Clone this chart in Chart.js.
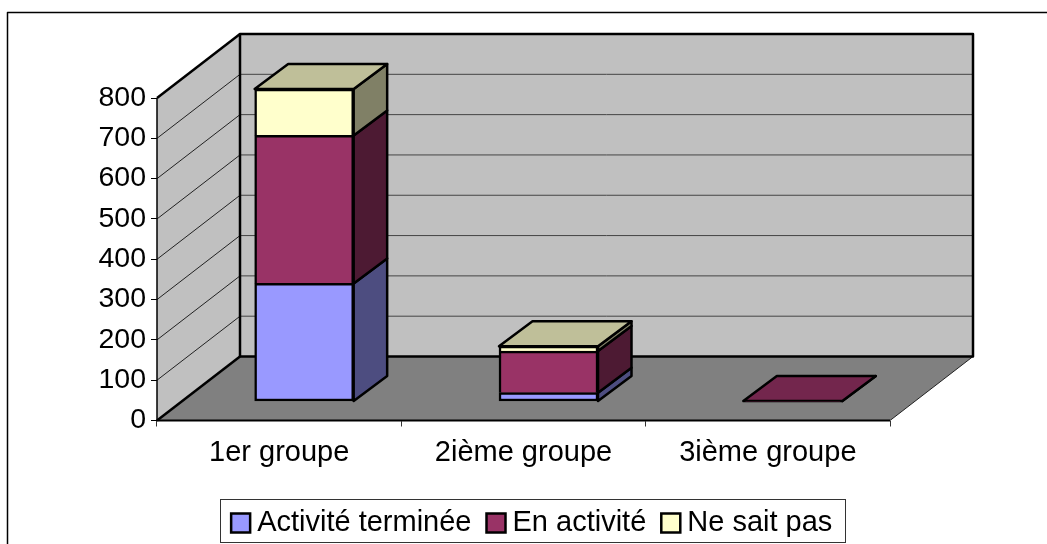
<!DOCTYPE html>
<html lang="fr">
<head>
<meta charset="utf-8">
<title>Groupes</title>
<style>html,body{margin:0;padding:0;background:#fff}canvas{display:block}</style>
<script src="https://cdn.jsdelivr.net/npm/chart.js@4/dist/chart.umd.min.js"></script>
</head>
<body>
<canvas id="c" width="1047" height="544"></canvas>
<script>
const categories = ['1er groupe', '2ième groupe', '3ième groupe'];
const seriesNames = ['Activité terminée', 'En activité', 'Ne sait pas'];
const termine = [293, 22, 0];
const enActivite = [367, 103, 1];
const neSaitPas = [115, 12, 0];
const fronts = ['#9999FF', '#993366', '#FFFFCC'];
const tops = ['#7373BF', '#73264D', '#BFBF99'];
const sides = ['#4D4D80', '#4D1A33', '#808066'];

const FONT = '"Liberation Sans", Arial, sans-serif';
const WALL = { dx: 83, dy: -64 };      // depth of the floor and side wall
const BAR = { ox: 25, oy: -19, dx: 33.5, dy: -25 }; // bar placement in depth

function poly(ctx, pts, fill, lw, stroke) {
  ctx.beginPath();
  pts.forEach((p, i) => i ? ctx.lineTo(p[0], p[1]) : ctx.moveTo(p[0], p[1]));
  ctx.closePath();
  if (fill) { ctx.fillStyle = fill; ctx.fill(); }
  if (lw) { ctx.lineWidth = lw; ctx.strokeStyle = stroke || '#000'; ctx.stroke(); }
}
function seg(ctx, x1, y1, x2, y2, lw, color) {
  ctx.beginPath(); ctx.moveTo(x1, y1); ctx.lineTo(x2, y2);
  ctx.lineWidth = lw; ctx.strokeStyle = color || '#000'; ctx.stroke();
}

const scene = {
  id: 'scene',
  afterLayout(chart) {
    chart.legend.left = 24;
    chart.legend.right = 1047;
    chart.legend.top = 486;
  },
  beforeDraw(chart) {
    const { ctx, chartArea: a, scales: { y } } = chart;
    ctx.save();
    ctx.lineJoin = 'round';
    // outer frame
    ctx.lineWidth = 1.5; ctx.strokeStyle = '#000';
    ctx.strokeRect(7.5, 12.5, 1100, 600);
    const l = a.left, r = a.right, t = a.top, b = a.bottom, dx = WALL.dx, dy = WALL.dy;
    // floor
    poly(ctx, [[l, b], [r, b], [r + dx, b + dy], [l + dx, b + dy]], '#808080');
    // side wall and back wall
    poly(ctx, [[l, b], [l + dx, b + dy], [l + dx, t + dy], [l, t]], '#C0C0C0');
    poly(ctx, [[l + dx, t + dy], [r + dx, t + dy], [r + dx, b + dy], [l + dx, b + dy]], '#C0C0C0');
    // gridlines on both walls
    y.ticks.forEach(tk => {
      if (tk.value === 0 || tk.value === y.max) return;
      const py = y.getPixelForValue(tk.value);
      seg(ctx, l, py, l + dx, py + dy, 1, '#222');
      seg(ctx, l + dx, py + dy, r + dx, py + dy, 1, '#444');
    });
    // structural outlines
    seg(ctx, r, b, r + dx, b + dy, 1, '#222');
    poly(ctx, [[l + dx, t + dy], [r + dx, t + dy], [r + dx, b + dy], [l + dx, b + dy]], null, 2.5);
    seg(ctx, l, t, l + dx, t + dy, 2.5);
    seg(ctx, l, b, l + dx, b + dy, 2.5);
    seg(ctx, l, t, l, b, 1.5);
    seg(ctx, l, b, r, b, 2);
    ctx.restore();
  },
  beforeDatasetsDraw(chart) {
    const { ctx } = chart;
    ctx.save();
    ctx.translate(BAR.ox, BAR.oy);
    ctx.lineJoin = 'round';
    const d = BAR.dx, e = BAR.dy;
    categories.forEach((_, i) => {
      let topIdx = -1;
      chart.data.datasets.forEach((ds, k) => { if (ds.data[i] > 0) topIdx = k; });
      chart.data.datasets.forEach((ds, k) => {
        if (!(ds.data[i] > 0)) return;
        const el = chart.getDatasetMeta(k).data[i];
        const L = el.x - el.width / 2, R = el.x + el.width / 2, T = el.y, B = el.base;
        poly(ctx, [[R, B], [R + d, B + e], [R + d, T + e], [R, T]], sides[k], 2.5);
        if (k === topIdx) {
          poly(ctx, [[L, T], [R, T], [R + d, T + e], [L + d, T + e]], tops[k], 2.5);
        }
      });
    });
  },
  afterDatasetsDraw(chart) {
    chart.ctx.restore();
  },
  afterDraw(chart) {
    const { ctx } = chart;
    ctx.save();
    ctx.lineWidth = 1; ctx.strokeStyle = '#333';
    ctx.strokeRect(220.5, 499.5, 625, 43);
    ctx.restore();
  }
};

const make = (i, data) => ({
  label: seriesNames[i],
  data,
  backgroundColor: fronts[i],
  borderColor: '#000',
  borderWidth: 2.5,
  borderSkipped: i === 0 ? false : 'bottom',
  barThickness: 99,
  stack: 's',
  clip: false
});

new Chart(document.getElementById('c'), {
  type: 'bar',
  data: {
    labels: categories,
    datasets: [make(0, termine), make(1, enActivite), make(2, neSaitPas)]
  },
  options: {
    responsive: false,
    animation: false,
    devicePixelRatio: 1,
    layout: { padding: { left: 0, right: 157, top: 98, bottom: 2 } },
    scales: {
      x: {
        stacked: true,
        afterFit(s) { s.height = 60; },
        grid: { drawOnChartArea: false, drawTicks: true, tickLength: 6, color: '#333', lineWidth: 1 },
        border: { display: false },
        ticks: { color: '#000', font: { family: FONT, size: 29 }, padding: 9, maxRotation: 0 }
      },
      y: {
        stacked: true,
        min: 0,
        max: 800,
        afterFit(s) { s.width = 157; },
        grid: { drawOnChartArea: false, drawTicks: true, tickLength: 6, color: '#000', lineWidth: 1 },
        border: { display: false },
        ticks: { stepSize: 100, color: '#000', font: { family: FONT, size: 28.5 }, padding: 5 }
      }
    },
    plugins: {
      tooltip: { enabled: false },
      legend: {
        position: 'bottom',
        labels: {
          color: '#000',
          font: { family: FONT, size: 29 },
          usePointStyle: true,
          pointStyle: 'rect',
          boxWidth: 4,
          boxHeight: 19,
          padding: 22.5
        }
      }
    }
  },
  plugins: [scene]
});
</script>
</body>
</html>
